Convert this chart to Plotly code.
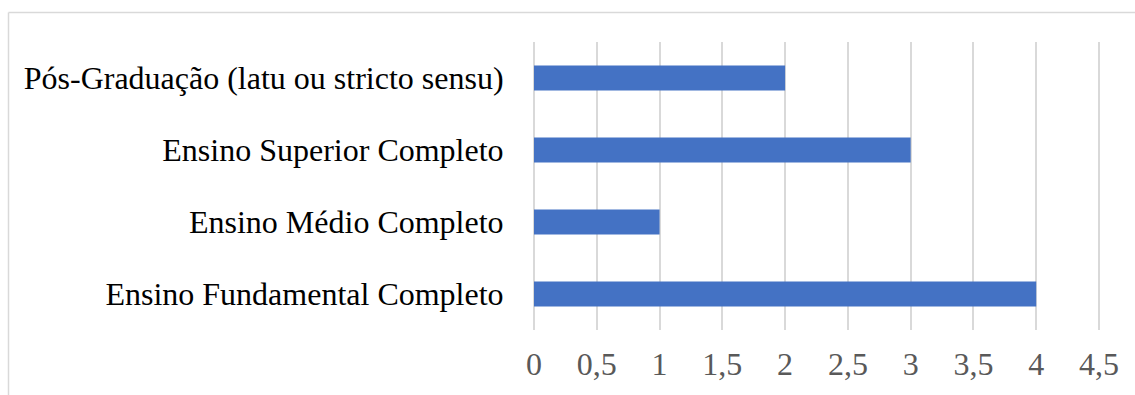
import plotly.graph_objects as go

categories = ["Ensino Fundamental Completo", "Ensino Médio Completo",
              "Ensino Superior Completo", "Pós-Graduação (latu ou stricto sensu)"]
values = [4, 1, 3, 2]
tick_vals = [0, 0.5, 1, 1.5, 2, 2.5, 3, 3.5, 4, 4.5]
tick_text = ["0", "0,5", "1", "1,5", "2", "2,5", "3", "3,5", "4", "4,5"]

W, H = 1135, 395
L, R, T, B = 534, 34, 42, 65
pw, ph = W - L - R, H - T - B

fig = go.Figure(go.Bar(
    x=values, y=categories, orientation="h",
    marker=dict(color="#4472C4", line=dict(width=0)),
))

def px_to_paper_x(px):
    return (px - L) / pw

def px_to_paper_y(py):
    return (H - B - py) / ph

# chart-area border: only left and top edges are visible in the frame
x_left, x_right = px_to_paper_x(8.5), px_to_paper_x(1140)
y_top, y_bot = px_to_paper_y(12.5), px_to_paper_y(400)
fig.add_shape(type="line", xref="paper", yref="paper",
              x0=x_left, x1=x_left, y0=y_bot, y1=y_top,
              line=dict(color="#d9d9d9", width=1.5), layer="below")
fig.add_shape(type="line", xref="paper", yref="paper",
              x0=x_left, x1=x_right, y0=y_top, y1=y_top,
              line=dict(color="#d9d9d9", width=1.5), layer="below")

fig.update_layout(
    width=W, height=H,
    margin=dict(l=L, r=R, t=T, b=B, pad=0, autoexpand=False),
    paper_bgcolor="white", plot_bgcolor="white",
    bargap=0.65,
    showlegend=False,
    font=dict(family="Liberation Serif, Times New Roman, serif", size=32),
    xaxis=dict(range=[0, 4.5 * 567 / 565], tickvals=tick_vals, ticktext=tick_text,
               automargin=False,
               showgrid=True, gridcolor="#d9d9d9", gridwidth=2,
               zeroline=True, zerolinecolor="#d9d9d9", zerolinewidth=2,
               showline=False, ticks="outside", ticklen=6,
               tickcolor="rgba(0,0,0,0)",
               tickfont=dict(color="#595959", size=32)),
    yaxis=dict(showgrid=False, zeroline=False, showline=False, automargin=False,
               ticks="outside", ticklen=23, tickcolor="rgba(0,0,0,0)",
               tickfont=dict(color="#000000", size=32)),
)

fig.write_html("out.html")
